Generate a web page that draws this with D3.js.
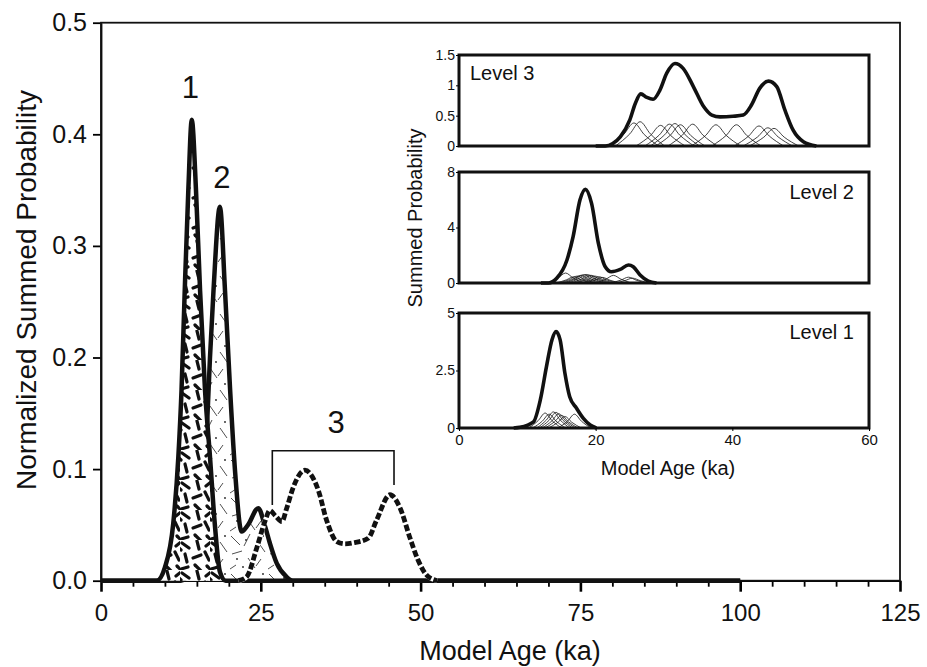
<!DOCTYPE html>
<html>
<head>
<meta charset="utf-8">
<script src="https://cdn.jsdelivr.net/npm/d3@7"></script>
<style>
  body { margin: 0; background: #fff; }
  svg { display: block; font-family: "Liberation Sans", Arial, Helvetica, sans-serif; }
</style>
</head>
<body>
<svg id="chart" width="927" height="667"></svg>
<script>
// Main chart: normalized summed probability per level
const ageTicks = [0, 25, 50, 75, 100, 125];
const probTicks = [0, 0.1, 0.2, 0.3, 0.4, 0.5];
const probTickLabels = ['0.0', '0.1', '0.2', '0.3', '0.4', '0.5'];

const level1Age  = [0, 8.7, 10.0, 11.3, 12.1, 12.6, 13.1, 13.66, 14.2, 14.86, 15.5, 16.27, 17.05, 17.8, 18.6, 19.5, 100];
const level1Prob = [0, 0, 0.012, 0.051, 0.111, 0.171, 0.26, 0.35, 0.413, 0.35, 0.26, 0.171, 0.111, 0.051, 0.008, 0, 0];

const level2Age  = [0, 12.5, 14.0, 15.2, 16.0, 16.6, 17.05, 17.6, 18.6, 19.4, 20.2, 21.0, 22.0, 23.0, 24.6, 25.6, 26.4, 27.5, 29.0, 30.0, 100];
const level2Prob = [0, 0, 0.01, 0.04, 0.08, 0.141, 0.20, 0.26, 0.335, 0.26, 0.171, 0.096, 0.044, 0.05, 0.065, 0.05, 0.034, 0.0155, 0.0036, 0, 0];

const level3Age  = [21.5, 22.8, 24.4, 25.7, 26.4, 27.3, 28.3, 29.05, 30.1, 31.9, 34.0, 35.3, 36.9, 38.2, 39.5, 41.8, 43.1, 45.2, 46.8, 48.3, 49.6, 50.95, 52.6];
const level3Prob = [0, 0.0036, 0.030, 0.054, 0.063, 0.058, 0.053, 0.065, 0.084, 0.099, 0.081, 0.054, 0.035, 0.033, 0.034, 0.038, 0.054, 0.077, 0.065, 0.039, 0.0185, 0.005, 0];

// group labels: [age, prob, text]
const groupLabels = [[14.0, 0.4325, '1'], [18.9, 0.352, '2'], [36.8, 0.1323, '3']];
// bracket over group 3: [ageLeft, ageRight, probTop, probLeftEnd, probRightEnd]
const bracket3 = [26.8, 45.84, 0.1165, 0.0678, 0.0858];

// Insets: summed probability (thick) and single samples (thin)
const insetAgeTicks = [0, 20, 40, 60];

const inset3Age  = [20, 21.4, 22.5, 23.6, 25.0, 25.8, 26.6, 27.5, 28.4, 29.4, 30.4, 31.6, 32.8, 34.3, 35.8, 37.0, 38.2, 40.1, 41.6, 42.8, 44.0, 45.3, 46.5, 47.7, 48.9, 50.4, 52.3];
const inset3Prob = [0, 0, 0.04, 0.15, 0.43, 0.70, 0.86, 0.80, 0.77, 0.92, 1.2, 1.36, 1.28, 0.98, 0.65, 0.51, 0.48, 0.49, 0.51, 0.675, 0.95, 1.07, 0.98, 0.59, 0.26, 0.07, 0];
const inset3Ticks = [0, 0.5, 1, 1.5];
const inset3TickLabels = ['0', '0.5', '1', '1.5'];
// each sample: [start, half-rise, peak, half-fall, end, height]
const inset3Samples = [
  [22.0, 24.1, 25.6, 27.1, 29.2, 0.38],
  [22.9, 25.0, 26.5, 28.0, 30.1, 0.40],
  [25.9, 28.0, 29.5, 31.0, 33.1, 0.34],
  [27.2, 29.3, 30.8, 32.3, 34.4, 0.36],
  [28.0, 30.1, 31.6, 33.1, 35.2, 0.37],
  [28.8, 30.9, 32.4, 33.9, 36.0, 0.35],
  [30.6, 32.7, 34.2, 35.7, 37.8, 0.36],
  [34.0, 36.1, 37.6, 39.1, 41.2, 0.35],
  [37.0, 39.1, 40.6, 42.1, 44.2, 0.35],
  [40.3, 42.4, 43.9, 45.4, 47.5, 0.33],
  [41.6, 43.7, 45.2, 46.7, 48.8, 0.30],
  [42.5, 44.6, 46.1, 47.6, 49.7, 0.29]
];

const inset2Age  = [12.0, 13.1, 14.3, 15.8, 16.7, 17.7, 18.5, 19.4, 20.4, 21.4, 22.3, 23.6, 24.8, 25.5, 26.5, 27.7, 28.9];
const inset2Prob = [0, 0, 0.34, 1.66, 3.34, 5.98, 6.75, 5.74, 2.86, 1.17, 0.81, 0.98, 1.30, 1.17, 0.58, 0.14, 0];
const inset2Ticks = [0, 4, 8];
const inset2TickLabels = ['0', '4', '8'];
const inset2Samples = [
  [13.0, 14.5, 15.6, 16.7, 18.2, 0.72],
  [14.2, 15.7, 16.8, 17.9, 19.4, 0.45],
  [14.7, 16.2, 17.3, 18.4, 19.9, 0.50],
  [15.2, 16.7, 17.8, 18.9, 20.4, 0.55],
  [15.6, 17.1, 18.2, 19.3, 20.8, 0.60],
  [16.0, 17.5, 18.6, 19.7, 21.2, 0.62],
  [16.4, 17.9, 19.0, 20.1, 21.6, 0.58],
  [16.8, 18.3, 19.4, 20.5, 22.0, 0.55],
  [17.3, 18.8, 19.9, 21.0, 22.5, 0.50],
  [17.9, 19.4, 20.5, 21.6, 23.1, 0.45],
  [18.4, 19.9, 21.0, 22.1, 23.6, 0.40],
  [20.0, 21.5, 22.6, 23.7, 25.2, 0.55],
  [22.2, 23.7, 24.8, 25.9, 27.4, 0.42],
  [22.8, 24.3, 25.4, 26.5, 28.0, 0.35]
];

const inset1Age  = [8.0, 8.9, 10.9, 11.9, 12.8, 13.6, 14.2, 14.8, 15.5, 16.2, 17.2, 18.2, 19.2, 20.1];
const inset1Prob = [0, 0.03, 0.27, 1.22, 2.67, 3.83, 4.19, 3.83, 2.38, 1.36, 0.86, 0.42, 0.13, 0];
const inset1Ticks = [0, 2.5, 5];
const inset1TickLabels = ['0', '2.5', '5'];
const inset1Samples = [
  [10.2, 11.6, 12.6, 13.6, 15.0, 0.65],
  [10.8, 12.2, 13.2, 14.2, 15.6, 0.60],
  [11.4, 12.8, 13.8, 14.8, 16.2, 0.70],
  [11.8, 13.2, 14.2, 15.2, 16.6, 0.68],
  [12.2, 13.6, 14.6, 15.6, 17.0, 0.62],
  [12.6, 14.0, 15.0, 16.0, 17.4, 0.55],
  [13.1, 14.5, 15.5, 16.5, 17.9, 0.50],
  [14.5, 15.9, 16.9, 17.9, 19.3, 0.60]
];

const zip = (a, b) => a.map((v, i) => [v, b[i]]);

const svg = d3.select('#chart');
const x = d3.scaleLinear().domain([0, 125]).range([101, 900]);
const y = d3.scaleLinear().domain([0, 0.5]).range([580.7, 22.7]);

// fill patterns
const defs = svg.append('defs');
const p1 = defs.append('pattern').attr('id', 'fill1')
  .attr('patternUnits', 'userSpaceOnUse').attr('width', 30).attr('height', 30);
p1.append('rect').attr('width', 30).attr('height', 30).attr('fill', '#fff');
p1.selectAll('path')
  .data(['M2 3L9 8', 'M17 1L19 9', 'M26 6L31 2', 'M5 14L7 22', 'M13 18L21 15', 'M25 12L29 20',
         'M1 29L8 27', 'M15 25L21 31', 'M27 26L32 31', 'M-3 6L1 10'])
  .join('path').attr('d', d => d)
  .attr('stroke', '#111').attr('stroke-width', 3.2).attr('stroke-linecap', 'round');

const p2 = defs.append('pattern').attr('id', 'fill2')
  .attr('patternUnits', 'userSpaceOnUse').attr('width', 38).attr('height', 38);
p2.append('rect').attr('width', 38).attr('height', 38).attr('fill', '#fff');
p2.selectAll('path')
  .data(['M3 4L12 13', 'M22 2L16 14', 'M30 10L37 20', 'M4 22L14 19', 'M20 26L27 36', 'M33 27L28 34', 'M8 33L2 37'])
  .join('path').attr('d', d => d)
  .attr('stroke', '#222').attr('stroke-width', 0.8);
p2.selectAll('circle')
  .data([[18, 8], [9, 27], [26, 20], [35, 4], [15, 35]])
  .join('circle').attr('cx', d => d[0]).attr('cy', d => d[1]).attr('r', 0.9).attr('fill', '#222');

const area = d3.area().x(d => x(d[0])).y0(y(0)).y1(d => y(d[1])).curve(d3.curveMonotoneX);
const line = d3.line().x(d => x(d[0])).y(d => y(d[1])).curve(d3.curveMonotoneX);

const l1 = zip(level1Age, level1Prob);
const l2 = zip(level2Age, level2Prob);
const l3 = zip(level3Age, level3Prob);

// axes
const xAxis = svg.append('g').attr('transform', `translate(0,${y(0)})`)
  .call(d3.axisBottom(x).tickValues(ageTicks).tickSize(11).tickSizeOuter(0).tickPadding(12));
xAxis.select('.domain').attr('stroke-width', 1.8);
xAxis.selectAll('.tick line').attr('stroke-width', 2.6);
xAxis.selectAll('.tick text').attr('font-size', 24).attr('fill', '#111').attr('font-family', null);

const minor = svg.append('g').attr('transform', `translate(0,${y(0)})`)
  .call(d3.axisBottom(x).tickValues(d3.range(5, 125, 5).filter(v => v % 25 !== 0)).tickSize(6).tickSizeOuter(0).tickFormat(''));
minor.select('.domain').remove();
minor.selectAll('.tick line').attr('stroke-width', 1.8);

const yAxis = svg.append('g').attr('transform', `translate(${x(0)},0)`)
  .call(d3.axisLeft(y).tickValues(probTicks).tickSize(8).tickSizeOuter(0).tickPadding(6)
    .tickFormat((d, i) => probTickLabels[i]));
yAxis.select('.domain').attr('stroke-width', 1.8);
yAxis.selectAll('.tick line').attr('stroke-width', 1.8);
yAxis.selectAll('.tick text').attr('font-size', 25).attr('fill', '#111').attr('font-family', null);

// frame
svg.append('rect')
  .attr('x', x(0)).attr('y', y(0.5)).attr('width', x(125) - x(0)).attr('height', y(0) - y(0.5))
  .attr('fill', 'none').attr('stroke', '#111').attr('stroke-width', 1.8);

// curves
svg.append('path').datum(l2).attr('d', area).attr('fill', 'url(#fill2)');
svg.append('path').datum(l2).attr('d', line).attr('fill', 'none').attr('stroke', '#111')
  .attr('stroke-width', 4.5).attr('stroke-linejoin', 'round');
svg.append('path').datum(l1).attr('d', area).attr('fill', 'url(#fill1)');
svg.append('path').datum(l1).attr('d', line).attr('fill', 'none').attr('stroke', '#111')
  .attr('stroke-width', 4.5).attr('stroke-linejoin', 'round');
svg.append('path').datum(l3).attr('d', line).attr('fill', 'none').attr('stroke', '#fff')
  .attr('stroke-width', 5);
svg.append('path').datum(l3).attr('d', line).attr('fill', 'none').attr('stroke', '#111')
  .attr('stroke-width', 4.8).attr('stroke-dasharray', '6.5,2.5');

// group labels and bracket
svg.selectAll('.grp').data(groupLabels).join('text').attr('class', 'grp')
  .attr('x', d => x(d[0])).attr('y', d => y(d[1]))
  .attr('text-anchor', 'middle').attr('font-size', 31).attr('fill', '#111').text(d => d[2]);
const [bL, bR, bT, bLE, bRE] = bracket3;
svg.append('path')
  .attr('d', `M${x(bL)},${y(bLE)}V${y(bT)}H${x(bR)}V${y(bRE)}`)
  .attr('fill', 'none').attr('stroke', '#111').attr('stroke-width', 1.6);

// titles
svg.append('text').attr('x', 510).attr('y', 660).attr('text-anchor', 'middle')
  .attr('font-size', 27).attr('fill', '#111').text('Model Age (ka)');
svg.append('text').attr('transform', 'translate(36,290) rotate(-90)').attr('text-anchor', 'middle')
  .attr('font-size', 28).attr('fill', '#111').text('Normalized Summed Probability');

// insets
const ix = d3.scaleLinear().domain([0, 60]).range([459, 869]);

function drawInset(cfg) {
  const iy = d3.scaleLinear().domain([0, cfg.yMax]).range([cfg.bottom, cfg.top]);
  const g = svg.append('g');
  g.append('rect').attr('x', ix(0)).attr('y', cfg.top).attr('width', ix(60) - ix(0))
    .attr('height', cfg.bottom - cfg.top).attr('fill', '#fff');
  const il = d3.line().x(d => ix(d[0])).y(d => iy(d[1])).curve(d3.curveMonotoneX);
  g.selectAll('.sample').data(cfg.samples).join('path').attr('class', 'sample')
    .attr('d', s => il([[s[0], 0], [s[1], s[5] / 2], [s[2], s[5]], [s[3], s[5] / 2], [s[4], 0]]))
    .attr('fill', 'none').attr('stroke', '#111').attr('stroke-width', 0.8);
  g.append('path').datum(zip(cfg.ages, cfg.probs)).attr('d', il)
    .attr('fill', 'none').attr('stroke', '#111').attr('stroke-width', 3.6).attr('stroke-linejoin', 'round');
  g.append('rect').attr('x', ix(0)).attr('y', cfg.top).attr('width', ix(60) - ix(0))
    .attr('height', cfg.bottom - cfg.top).attr('fill', 'none').attr('stroke', '#111').attr('stroke-width', 3);
  const ya = g.append('g').attr('transform', `translate(${ix(0)},0)`)
    .call(d3.axisLeft(iy).tickValues(cfg.ticks).tickSize(3).tickSizeOuter(0).tickPadding(1)
      .tickFormat((d, i) => cfg.tickLabels[i]));
  ya.select('.domain').remove();
  ya.selectAll('.tick text').attr('font-size', 14).attr('fill', '#111').attr('font-family', null);
  if (cfg.showX) {
    const xa = g.append('g').attr('transform', `translate(0,${cfg.bottom})`)
      .call(d3.axisBottom(ix).tickValues(insetAgeTicks).tickSize(3).tickSizeOuter(0).tickPadding(3));
    xa.select('.domain').remove();
    xa.selectAll('.tick text').attr('font-size', 15).attr('fill', '#111').attr('font-family', null);
  }
  g.append('text').attr('x', cfg.labelX).attr('y', cfg.labelY).attr('text-anchor', cfg.anchor)
    .attr('font-size', 20).attr('fill', '#111').text(cfg.label);
}

drawInset({ top: 55, bottom: 146, yMax: 1.5, ticks: inset3Ticks, tickLabels: inset3TickLabels,
  ages: inset3Age, probs: inset3Prob, samples: inset3Samples, label: 'Level 3', labelX: 470, labelY: 80, anchor: 'start' });
drawInset({ top: 172, bottom: 283, yMax: 8, ticks: inset2Ticks, tickLabels: inset2TickLabels,
  ages: inset2Age, probs: inset2Prob, samples: inset2Samples, label: 'Level 2', labelX: 854, labelY: 199, anchor: 'end' });
drawInset({ top: 313, bottom: 428, yMax: 5, ticks: inset1Ticks, tickLabels: inset1TickLabels,
  ages: inset1Age, probs: inset1Prob, samples: inset1Samples, label: 'Level 1', labelX: 854, labelY: 339, anchor: 'end', showX: true });

svg.append('text').attr('x', 668).attr('y', 475).attr('text-anchor', 'middle')
  .attr('font-size', 20).attr('fill', '#111').text('Model Age (ka)');
svg.append('text').attr('transform', 'translate(422,218) rotate(-90)').attr('text-anchor', 'middle')
  .attr('font-size', 20).attr('fill', '#111').text('Summed Probability');
</script>
</body>
</html>
